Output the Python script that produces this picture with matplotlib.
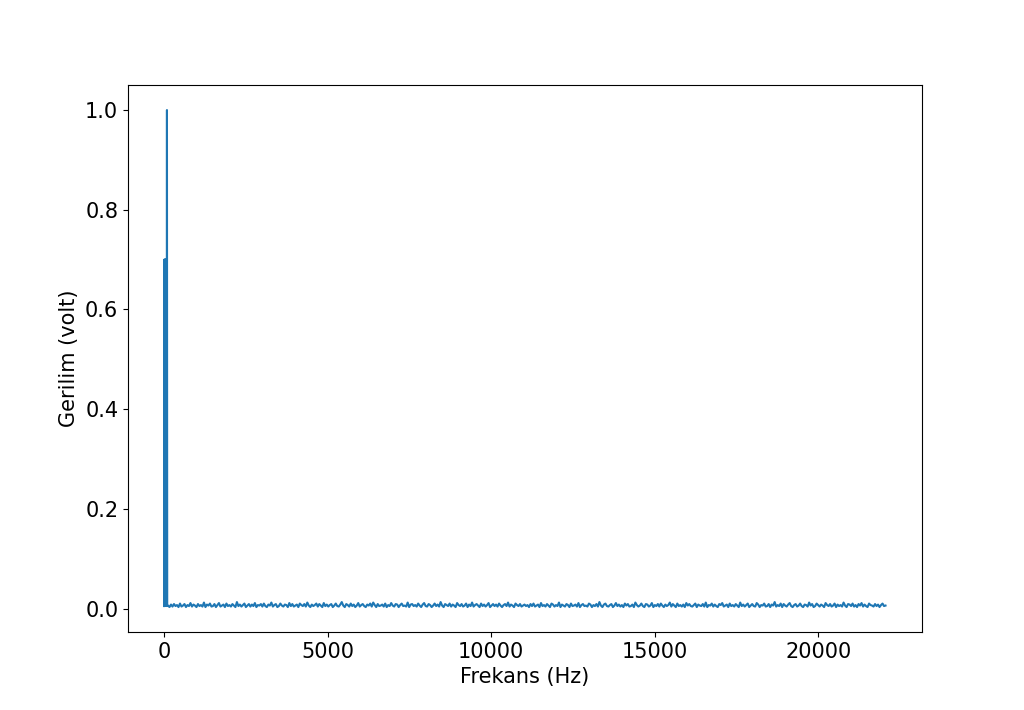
import numpy as np
import matplotlib
matplotlib.use('Agg')
import matplotlib.pyplot as plt

# low-frequency part of the spectrum (Hz, volt)
peak_freq = [0, 8, 16, 24, 32, 40, 48, 56, 64, 72, 80, 88, 96, 104]
peak_volt = [0.005, 0.70, 0.006, 0.70, 0.008, 0.70, 0.006, 0.70, 0.005, 0.006, 0.007, 1.0, 0.006, 0.005]

# noise floor, in millivolt
noise_mv = [
    6, 3, 8, 4, 9, 5, 7, 3, 10, 4, 6, 9, 3, 7, 5, 11, 4, 8, 6, 3,
    9, 5, 7, 4, 12, 3, 8, 6, 10, 4, 5, 9, 3, 7, 11, 4, 6, 8, 3, 10,
    5, 7, 4, 9, 6, 3, 13, 5, 8, 4, 7, 10, 3, 6, 9, 4, 8, 5, 11, 3,
    7, 6, 9, 4, 10, 5, 3, 8, 6, 12, 4, 7, 9, 3, 5, 10, 6, 4, 8, 7,
    3, 11, 5, 9, 4, 6, 8, 3, 10, 7, 5, 9, 4, 12, 6, 3, 8, 5, 7, 10,
    4, 9, 6, 3, 11, 5, 8, 4, 7, 9, 3, 6, 10, 5, 4, 8, 13, 6, 3, 9,
    7, 4, 10, 5, 8, 3, 6, 11, 4, 7, 9, 5, 3, 8, 6, 10, 4, 12, 7, 3,
    9, 5, 6, 8, 4, 10, 3, 7, 5, 11, 6, 4, 9, 8, 3, 7, 10, 5, 6, 4,
    12, 3, 8, 9, 5, 7, 4, 10, 6, 3, 8, 11, 5, 4, 9, 7, 3, 6, 10, 5,
    8, 4, 13, 6, 3, 9, 7, 5, 10, 4, 8, 6, 3, 11, 7, 5, 9, 4, 6, 10,
    3, 8, 5, 12, 4, 7, 9, 6, 3, 10, 5, 8, 4, 7, 11, 3, 6, 9, 5, 8,
    4, 10, 6, 3, 7, 9, 5, 12, 4, 8, 6, 3, 10, 7, 5, 9, 4, 6, 8, 5,
    7, 3, 9, 5, 10, 4, 6, 8, 3, 11, 5, 7, 4, 9, 6, 3, 10, 8, 4, 7,
    5, 12, 3, 8, 6, 4, 9, 7, 3, 10, 5, 6, 8, 4, 11, 3, 7, 9, 5, 6,
    4, 10, 8, 3, 7, 5, 9, 4, 13, 6, 3, 8, 10, 5, 4, 7, 9, 3, 6, 11,
    5, 8, 4, 7, 3, 10, 6, 9, 4, 5, 8, 3, 12, 7, 4, 6, 10, 5, 3, 9,
    8, 4, 6, 11, 3, 7, 5, 9, 4, 10, 6, 3, 8, 5, 7, 12, 4, 9, 6, 3,
    10, 5, 7, 4, 8, 3, 11, 6, 9, 5, 4, 7, 10, 3, 8, 6, 5, 9, 4, 12,
    3, 7, 6, 10, 4, 8, 5, 3, 9, 7, 11, 4, 6, 8, 3, 10, 5, 7, 4, 9,
    6, 3, 12, 5, 8, 4, 7, 10, 3, 6, 9, 5, 4, 11, 8, 3, 7, 6, 10, 4,
    5, 9, 3, 8, 6, 13, 4, 7, 5, 10, 3, 9, 6, 4, 8, 11, 5, 3, 7, 9,
    4, 6, 10, 5, 3, 8, 7, 4, 12, 6, 9, 3, 5, 10, 7, 4, 8, 6, 3, 11,
    7, 5, 9, 4, 6, 10, 3, 8, 5, 7, 4, 12, 6, 3, 9, 8, 5, 10, 4, 7,
    3, 9, 6, 11, 4, 8, 5, 3, 10, 7, 6, 4, 9, 5, 8, 3, 7, 10, 5, 6,
]
noise_start = 120
noise_end = 22050

noise_freq = np.linspace(noise_start, noise_end, len(noise_mv))
freq = np.concatenate([peak_freq, noise_freq])
volt = np.concatenate([peak_volt, np.array(noise_mv) / 1000.0])

fig = plt.figure(figsize=(10.24, 7.1), dpi=100)
ax = fig.add_subplot(111)
ax.plot(freq, volt, color='#1f77b4', linewidth=1.5)
ax.set_xlabel('Frekans (Hz)', fontsize=15)
ax.set_ylabel('Gerilim (volt)', fontsize=15)
ax.tick_params(labelsize=15)
ax.set_xticks([0, 5000, 10000, 15000, 20000])
ax.set_yticks([0.0, 0.2, 0.4, 0.6, 0.8, 1.0])

fig.savefig('out.png', dpi=100)
